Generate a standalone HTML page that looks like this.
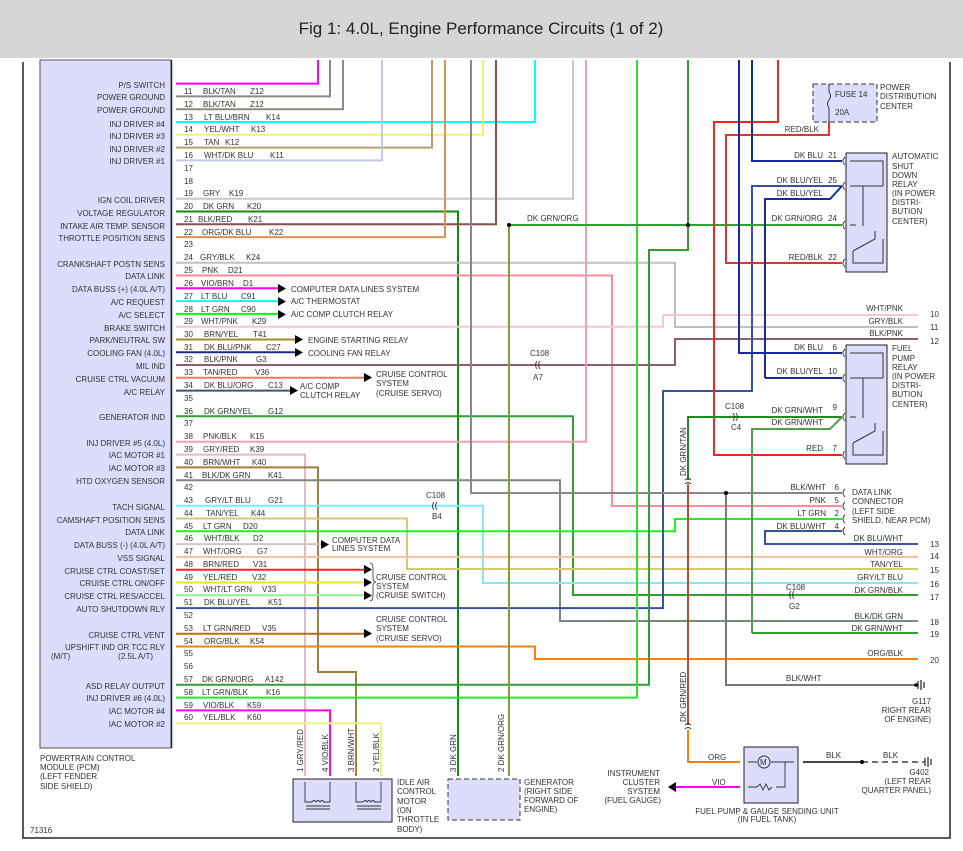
<!DOCTYPE html>
<html><head><meta charset="utf-8"><style>
html,body{margin:0;padding:0;background:#fff}
svg{display:block}
text{font-family:"Liberation Sans",sans-serif;font-size:8px;fill:#333}
.r{text-anchor:end}
.w{fill:none;stroke-width:2}
</style></head><body>
<svg width="963" height="851" viewBox="0 0 963 851" xmlns="http://www.w3.org/2000/svg">
<defs>
<pattern id="pins" x="0" y="77.2" width="12" height="12.79" patternUnits="userSpaceOnUse">
<path d="M2 3 Q6 6.4 2 9.8" fill="none" stroke="#444" stroke-width="0.8"/>
</pattern>
</defs>
<rect x="0" y="0" width="963" height="58" fill="#d6d6d6"/>
<text x="481" y="34" style="font-size:17px;fill:#222" text-anchor="middle">Fig 1: 4.0L, Engine Performance Circuits (1 of 2)</text>
<!-- frame -->
<path d="M23 62V838H950V62" fill="none" stroke="#222" stroke-width="1.5"/>
<!-- PCM -->
<rect x="40" y="60" width="131" height="688" fill="#dcdcfc" stroke="#555" stroke-width="1"/>
<line x1="171.5" y1="60" x2="171.5" y2="748" stroke="#222" stroke-width="1.5"/>
<rect x="173" y="77" width="6" height="652" fill="url(#pins)"/>

<!-- wires from PCM -->
<g class="w">
<path d="M176 83.6H318V60" stroke="#ff00ff"/>
<path d="M176 96.4H330V60" stroke="#8a8a80"/>
<path d="M176 109.2H343V60" stroke="#8a8a80"/>
<path d="M176 122H535V60" stroke="#00ffff"/>
<path d="M176 134.8H483V60" stroke="#f4f070"/>
<path d="M176 147.6H432V60" stroke="#b0a070"/>
<path d="M176 160.4H382V60" stroke="#c0c8e8"/>
<path d="M176 198.7H573V60" stroke="#c8c8c8"/>
<path d="M176 211.5H458V776" stroke="#138a13"/>
<path d="M176 224.3H496V60" stroke="#8a5050"/>
<path d="M176 237.1H445V60" stroke="#e09050"/>
<path d="M176 262.7H675V327H918" stroke="#c0c0c0"/>
<path d="M176 275.5H612V506H842" stroke="#ff8aa0"/>
<path d="M176 288.3H280" stroke="#ff00ff"/>
<path d="M176 301.1H280" stroke="#00ffff"/>
<path d="M176 313.9H280" stroke="#00ff00"/>
<path d="M176 326.7H663V315H918" stroke="#f4c8d0"/>
<path d="M176 339.5H297" stroke="#a09020"/>
<path d="M176 352.3H297" stroke="#1a2a8a"/>
<path d="M176 365H675V339H918" stroke="#8a6070"/>
<path d="M176 377.8H366" stroke="#e08060"/>
<path d="M176 390.6H292" stroke="#445080"/>
<path d="M176 416.2H573V595H918" stroke="#30a030"/>
<path d="M176 441.8H586V60" stroke="#f0a0b0"/>
<path d="M176 454.6H305V776" stroke="#e8b8c0"/>
<path d="M176 467.4H318V672H356V776" stroke="#a08040"/>
<path d="M176 480.2H560V621H918" stroke="#7a8a7a"/>
<path d="M176 505.7H483V583H918" stroke="#80ecf0"/>
<path d="M176 518.5H407V569H918" stroke="#d8c870"/>
<path d="M176 531.3H675V519H842" stroke="#20f020"/>
<path d="M176 544.1H323" stroke="#c8c8c8"/>
<path d="M176 556.9H918" stroke="#f0c0a0"/>
<path d="M176 569.7H366" stroke="#ff2020"/>
<path d="M176 582.5H366" stroke="#f0e020"/>
<path d="M176 595.3H366" stroke="#90f090"/>
<path d="M176 608.1H663V391H752V186H842" stroke="#3a50a0"/>
<path d="M176 633.7H366" stroke="#b07020"/>
<path d="M176 646.5H535V659H918" stroke="#ff8000"/>
<path d="M176 684.8H649V250H688V60" stroke="#30a030"/>
<path d="M688 225V250" stroke="#30a030"/>
<path d="M176 697.6H637V60" stroke="#30e030"/>
<path d="M176 710.4H330V776" stroke="#ff00ff"/>
<path d="M176 723.2H381V776" stroke="#f4f080"/>
<path d="M471 60V493H842" stroke="#888"/>
<path d="M726 493V685H915" stroke="#777"/>
<path d="M509 225V776" stroke="#80a030"/>
<path d="M509 225H842" stroke="#30a030"/>
<path d="M778 60V122H714V455H842" stroke="#ff2020"/>
<path d="M829 120V135H726V263H842" stroke="#e83030"/>
<path d="M752 60V161H842" stroke="#1a2a9a"/>
<path d="M739 60V353H842" stroke="#1a2a9a"/>
<path d="M765 378V199H830L842 186" stroke="#1a2a9a"/>
<path d="M765 378H842" stroke="#1a2a9a"/>
<path d="M688 480V417H842" stroke="#208a20"/>
<path d="M752 633V429H830L842 417" stroke="#50a050"/>
<path d="M752 633H918" stroke="#30a030"/>
<path d="M842 531H765V544H918" stroke="#3a50a0"/>
<path d="M688 484V725" stroke="#b05030"/>
<path d="M688 730V762H740" stroke="#ff8000"/>
<path d="M740 787H672" stroke="#ff00ff"/>
<path d="M803 762H862" stroke="#444"/>
</g>
<path d="M862 762H925" stroke="#444" stroke-width="1.5" stroke-dasharray="6,4"/>
<!-- junction dots -->
<g fill="#000"><circle cx="509" cy="225" r="2"/><circle cx="688" cy="225" r="2"/><circle cx="726" cy="493" r="2"/><circle cx="862" cy="762" r="2"/></g>
<!-- arrowheads -->
<g fill="#000">
<path d="M278 284v9l8-4.5z"/><path d="M278 297v9l8-4.5z"/><path d="M278 310v9l8-4.5z"/>
<path d="M295 335v9l8-4.5z"/><path d="M295 348v9l8-4.5z"/>
<path d="M364 373v9l8-4.5z"/><path d="M290 386v9l8-4.5z"/>
<path d="M321 540v9l8-4.5z"/>
<path d="M364 565v9l8-4.5z"/><path d="M364 578v9l8-4.5z"/><path d="M364 591v9l8-4.5z"/>
<path d="M364 629v9l8-4.5z"/>
<path d="M668 787l8-5v10z"/>
</g>
<path d="M370 563q3 0 3 6v8q0 5 3 5q-3 0-3 5v8q0 6-3 6" fill="none" stroke="#333" stroke-width="0.8"/>
<!-- C108 connectors -->
<g fill="none" stroke="#333" stroke-width="0.9">
<path d="M537 361q-3 4 0 8M540 361q-3 4 0 8"/>
<path d="M434 502q-3 4 0 8M437 502q-3 4 0 8"/>
<path d="M733 413q3 4 0 8M736 413q3 4 0 8"/>
<path d="M791 591q-3 4 0 8M794 591q-3 4 0 8"/>
<path d="M685 480q3-3 6 0M685 484q3-3 6 0M685 725q3-3 6 0M685 729q3-3 6 0"/>
</g>
<text x="530" y="356">C108</text><text x="533" y="380">A7</text>
<text x="426" y="498">C108</text><text x="432" y="519">B4</text>
<text x="725" y="409">C108</text><text x="731" y="430">C4</text>
<text x="786" y="590">C108</text><text x="789" y="609">G2</text>

<!-- fuse / PDC -->
<rect x="813" y="84" width="64" height="38" fill="#dcdcfc" stroke="#333" stroke-dasharray="5,3"/>
<path d="M829 84V92M829 92q3 4 0 8q-3 4 0 8M829 108V122" fill="none" stroke="#333"/>
<text x="835" y="97">FUSE 14</text><text x="835" y="115">20A</text>
<text x="880" y="90">POWER</text><text x="880" y="99">DISTRIBUTION</text><text x="880" y="109">CENTER</text>
<!-- relays -->
<rect x="846" y="153" width="41" height="119" fill="#dcdcfc" stroke="#222"/>
<path d="M850 161H883V186M850 186H883M863 186v40M850 225h6M853 251l22-12v-8M853 251V263H883V239" fill="none" stroke="#333" stroke-dasharray="0"/>
<rect x="846" y="345" width="41" height="119" fill="#dcdcfc" stroke="#222"/>
<path d="M850 353H883V378M850 378H883M863 378v40M850 417h6M853 443l22-12v-8M853 443V455H883V431" fill="none" stroke="#333"/>
<text x="892" y="159">AUTOMATIC</text><text x="892" y="169">SHUT</text><text x="892" y="178">DOWN</text><text x="892" y="187">RELAY</text><text x="892" y="196">(IN POWER</text><text x="892" y="205">DISTRI-</text><text x="892" y="214">BUTION</text><text x="892" y="224">CENTER)</text>
<text x="892" y="351">FUEL</text><text x="892" y="361">PUMP</text><text x="892" y="370">RELAY</text><text x="892" y="379">(IN POWER</text><text x="892" y="388">DISTRI-</text><text x="892" y="397">BUTION</text><text x="892" y="407">CENTER)</text>
<g class="r">
<text x="823" y="158">DK BLU</text><text x="837" y="158">21</text>
<text x="823" y="183">DK BLU/YEL</text><text x="837" y="183">25</text>
<text x="823" y="196">DK BLU/YEL</text>
<text x="823" y="221">DK GRN/ORG</text><text x="837" y="221">24</text>
<text x="823" y="260">RED/BLK</text><text x="837" y="260">22</text>
<text x="819" y="132">RED/BLK</text>
<text x="823" y="350">DK BLU</text><text x="837" y="350">6</text>
<text x="823" y="374">DK BLU/YEL</text><text x="837" y="374">10</text>
<text x="823" y="413">DK GRN/WHT</text><text x="837" y="410">9</text>
<text x="823" y="425">DK GRN/WHT</text>
<text x="823" y="451">RED</text><text x="837" y="451">7</text>
<text x="826" y="490">BLK/WHT</text><text x="839" y="490">6</text>
<text x="826" y="503">PNK</text><text x="839" y="503">5</text>
<text x="826" y="516">LT GRN</text><text x="839" y="516">2</text>
<text x="826" y="529">DK BLU/WHT</text><text x="839" y="529">4</text>
<text x="903" y="311">WHT/PNK</text><text x="903" y="324">GRY/BLK</text><text x="903" y="336">BLK/PNK</text>
<text x="903" y="541">DK BLU/WHT</text><text x="903" y="555">WHT/ORG</text><text x="903" y="567">TAN/YEL</text><text x="903" y="580">GRY/LT BLU</text><text x="903" y="593">DK GRN/BLK</text>
<text x="903" y="619">BLK/DK GRN</text><text x="903" y="631">DK GRN/WHT</text><text x="903" y="656">ORG/BLK</text>
</g>
<g><text x="930" y="317">10</text><text x="930" y="330">11</text><text x="930" y="344">12</text><text x="930" y="547">13</text><text x="930" y="559">14</text><text x="930" y="573">15</text><text x="930" y="587">16</text><text x="930" y="600">17</text><text x="930" y="625">18</text><text x="930" y="637">19</text><text x="930" y="663">20</text></g>
<!-- pin connectors on relay/dlc -->
<g fill="none" stroke="#333" stroke-width="0.9">
<path d="M845 157q-4 4 0 8M845 182q-4 4 0 8M845 221q-4 4 0 8M845 259q-4 4 0 8M845 349q-4 4 0 8M845 374q-4 4 0 8M845 413q-4 4 0 8M845 451q-4 4 0 8M845 489q-4 4 0 8M845 502q-4 4 0 8M845 515q-4 4 0 8M845 527q-4 4 0 8"/>
</g>
<text x="852" y="495">DATA LINK</text><text x="852" y="504">CONNECTOR</text><text x="852" y="514">(LEFT SIDE</text><text x="852" y="523">SHIELD, NEAR PCM)</text>
<!-- grounds -->
<path d="M918 681v8M921 680v10M924 682v6" stroke="#333" stroke-width="1.3"/>
<circle cx="916" cy="685" r="1.8"/>
<text x="786" y="681">BLK/WHT</text>
<text x="931" y="704" class="r">G117</text><text x="931" y="713" class="r">RIGHT REAR</text><text x="931" y="722" class="r">OF ENGINE)</text>
<path d="M925 758v8M928 757v10M931 759v6" stroke="#333" stroke-width="1.3"/>
<text x="826" y="758">BLK</text><text x="883" y="758">BLK</text>
<text x="929" y="775" class="r">G402</text><text x="931" y="784" class="r">(LEFT REAR</text><text x="931" y="793" class="r">QUARTER PANEL)</text>
<!-- fuel pump -->
<rect x="744" y="747" width="54" height="56" fill="#dcdcfc" stroke="#222"/>
<circle cx="764" cy="762" r="6" fill="none" stroke="#333"/><text x="760" y="765">M</text>
<path d="M748 762h9M771 762h23M785 762v25h-9M748 787h9l3-3 3 6 3-6 3 6 3-3" fill="none" stroke="#333" stroke-width="0.9"/>
<text x="708" y="760">ORG</text><text x="712" y="785">VIO</text>
<text x="767" y="814" text-anchor="middle">FUEL PUMP &amp; GAUGE SENDING UNIT</text><text x="767" y="822" text-anchor="middle">(IN FUEL TANK)</text>
<text x="660" y="776" class="r">INSTRUMENT</text><text x="660" y="785" class="r">CLUSTER</text><text x="660" y="794" class="r">SYSTEM</text><text x="661" y="803" class="r">(FUEL GAUGE)</text>
<!-- IAC -->
<rect x="293" y="779" width="99" height="43" fill="#dcdcfc" stroke="#222"/>
<path d="M305 782v20h7M330 782v20h-7M312 802q2-3 4 0q2-3 4 0q2-3 4 0M356 782v20h7M381 782v20h-7M363 802q2-3 4 0q2-3 4 0q2-3 4 0M306 806h24M306 809h24M357 806h24M357 809h24" fill="none" stroke="#333" stroke-width="0.9"/>
<text x="397" y="785">IDLE AIR</text><text x="397" y="794">CONTROL</text><text x="397" y="804">MOTOR</text><text x="397" y="813">(ON</text><text x="397" y="822">THROTTLE</text><text x="397" y="832">BODY)</text>
<rect x="448" y="779" width="72" height="41" fill="#dcdcfc" stroke="#333" stroke-dasharray="5,3"/>
<text x="524" y="785">GENERATOR</text><text x="524" y="794">(RIGHT SIDE</text><text x="524" y="803">FORWARD OF</text><text x="524" y="812">ENGINE)</text>
<g transform="rotate(-90)">
<text x="-772" y="303">1 GRY/RED</text><text x="-772" y="328">4 VIO/BLK</text><text x="-772" y="354">3 BRN/WHT</text><text x="-772" y="379">2 YEL/BLK</text>
<text x="-772" y="456">3 DK GRN</text><text x="-772" y="504">2 DK GRN/ORG</text>
<text x="-476" y="686">DK GRN/TAN</text><text x="-722" y="686">DK GRN/RED</text>
</g>
<!-- PCM labels -->
<text x="40" y="761">POWERTRAIN CONTROL</text><text x="40" y="770">MODULE (PCM)</text><text x="40" y="779">(LEFT FENDER</text><text x="40" y="789">SIDE SHIELD)</text>
<text x="30" y="833">71316</text>
<g class="r">
<text x="165" y="88">P/S SWITCH</text><text x="165" y="100">POWER GROUND</text><text x="165" y="113">POWER GROUND</text>
<text x="165" y="127">INJ DRIVER #4</text><text x="165" y="139">INJ DRIVER #3</text><text x="165" y="152">INJ DRIVER #2</text><text x="165" y="164">INJ DRIVER #1</text>
<text x="165" y="203">IGN COIL DRIVER</text><text x="165" y="216">VOLTAGE REGULATOR</text><text x="165" y="229">INTAKE AIR TEMP. SENSOR</text><text x="165" y="241">THROTTLE POSITION SENS</text>
<text x="165" y="267">CRANKSHAFT POSTN SENS</text><text x="165" y="279">DATA LINK</text><text x="165" y="292">DATA BUSS (+) (4.0L A/T)</text><text x="165" y="305">A/C REQUEST</text><text x="165" y="318">A/C SELECT</text>
<text x="165" y="331">BRAKE SWITCH</text><text x="165" y="343">PARK/NEUTRAL SW</text><text x="165" y="356">COOLING FAN (4.0L)</text><text x="165" y="369">MIL IND</text><text x="165" y="382">CRUISE CTRL VACUUM</text><text x="165" y="395">A/C RELAY</text>
<text x="165" y="420">GENERATOR IND</text><text x="165" y="446">INJ DRIVER #5 (4.0L)</text><text x="165" y="458">IAC MOTOR #1</text><text x="165" y="471">IAC MOTOR #3</text><text x="165" y="484">HTD OXYGEN SENSOR</text>
<text x="165" y="510">TACH SIGNAL</text><text x="165" y="523">CAMSHAFT POSITION SENS</text><text x="165" y="535">DATA LINK</text><text x="165" y="548">DATA BUSS (-) (4.0L A/T)</text><text x="165" y="561">VSS SIGNAL</text>
<text x="165" y="574">CRUISE CTRL COAST/SET</text><text x="165" y="586">CRUISE CTRL ON/OFF</text><text x="165" y="599">CRUISE CTRL RES/ACCEL</text><text x="165" y="612">AUTO SHUTDOWN RLY</text>
<text x="165" y="638">CRUISE CTRL VENT</text><text x="165" y="650">UPSHIFT IND OR TCC RLY</text><text x="153" y="659">(2.5L A/T)</text>
<text x="165" y="689">ASD RELAY OUTPUT</text><text x="165" y="701">INJ DRIVER #6 (4.0L)</text><text x="165" y="714">IAC MOTOR #4</text><text x="165" y="727">IAC MOTOR #2</text>
</g>
<text x="51" y="659">(M/T)</text>
<!-- destination labels -->
<text x="291" y="292">COMPUTER DATA LINES SYSTEM</text><text x="291" y="304">A/C THERMOSTAT</text><text x="291" y="317">A/C COMP CLUTCH RELAY</text>
<text x="308" y="343">ENGINE STARTING RELAY</text><text x="308" y="356">COOLING FAN RELAY</text>
<text x="300" y="389">A/C COMP</text><text x="300" y="398">CLUTCH RELAY</text>
<text x="376" y="377">CRUISE CONTROL</text><text x="376" y="386">SYSTEM</text><text x="376" y="396">(CRUISE SERVO)</text>
<text x="332" y="543">COMPUTER DATA</text><text x="332" y="551">LINES SYSTEM</text>
<text x="376" y="580">CRUISE CONTROL</text><text x="376" y="589">SYSTEM</text><text x="376" y="598">(CRUISE SWITCH)</text>
<text x="376" y="622">CRUISE CONTROL</text><text x="376" y="631">SYSTEM</text><text x="376" y="641">(CRUISE SERVO)</text>
<text x="527" y="221">DK GRN/ORG</text>
<!-- pin row labels -->
<g>
<text x="184" y="94">11</text><text x="203" y="94">BLK/TAN</text><text x="250" y="94">Z12</text>
<text x="184" y="107">12</text><text x="203" y="107">BLK/TAN</text><text x="250" y="107">Z12</text>
<text x="184" y="120">13</text><text x="204" y="120">LT BLU/BRN</text><text x="266" y="120">K14</text>
<text x="184" y="132">14</text><text x="204" y="132">YEL/WHT</text><text x="251" y="132">K13</text>
<text x="184" y="145">15</text><text x="204" y="145">TAN</text><text x="225" y="145">K12</text>
<text x="184" y="158">16</text><text x="204" y="158">WHT/DK BLU</text><text x="270" y="158">K11</text>
<text x="184" y="171">17</text><text x="184" y="184">18</text>
<text x="184" y="196">19</text><text x="203" y="196">GRY</text><text x="229" y="196">K19</text>
<text x="184" y="209">20</text><text x="203" y="209">DK GRN</text><text x="247" y="209">K20</text>
<text x="184" y="222">21</text><text x="198" y="222">BLK/RED</text><text x="248" y="222">K21</text>
<text x="184" y="235">22</text><text x="202" y="235">ORG/DK BLU</text><text x="269" y="235">K22</text>
<text x="184" y="247">23</text>
<text x="184" y="260">24</text><text x="200" y="260">GRY/BLK</text><text x="246" y="260">K24</text>
<text x="184" y="273">25</text><text x="202" y="273">PNK</text><text x="228" y="273">D21</text>
<text x="184" y="286">26</text><text x="201" y="286">VIO/BRN</text><text x="243" y="286">D1</text>
<text x="184" y="299">27</text><text x="201" y="299">LT BLU</text><text x="241" y="299">C91</text>
<text x="184" y="312">28</text><text x="201" y="312">LT GRN</text><text x="241" y="312">C90</text>
<text x="184" y="324">29</text><text x="201" y="324">WHT/PNK</text><text x="252" y="324">K29</text>
<text x="184" y="337">30</text><text x="204" y="337">BRN/YEL</text><text x="253" y="337">T41</text>
<text x="184" y="350">31</text><text x="204" y="350">DK BLU/PNK</text><text x="266" y="350">C27</text>
<text x="184" y="362">32</text><text x="204" y="362">BLK/PNK</text><text x="256" y="362">G3</text>
<text x="184" y="375">33</text><text x="203" y="375">TAN/RED</text><text x="255" y="375">V36</text>
<text x="184" y="388">34</text><text x="204" y="388">DK BLU/ORG</text><text x="268" y="388">C13</text>
<text x="184" y="401">35</text>
<text x="184" y="414">36</text><text x="204" y="414">DK GRN/YEL</text><text x="268" y="414">G12</text>
<text x="184" y="426">37</text>
<text x="184" y="439">38</text><text x="203" y="439">PNK/BLK</text><text x="250" y="439">K15</text>
<text x="184" y="452">39</text><text x="203" y="452">GRY/RED</text><text x="250" y="452">K39</text>
<text x="184" y="465">40</text><text x="203" y="465">BRN/WHT</text><text x="252" y="465">K40</text>
<text x="184" y="478">41</text><text x="202" y="478">BLK/DK GRN</text><text x="268" y="478">K41</text>
<text x="184" y="490">42</text>
<text x="184" y="503">43</text><text x="205" y="503">GRY/LT BLU</text><text x="268" y="503">G21</text>
<text x="184" y="516">44</text><text x="206" y="516">TAN/YEL</text><text x="251" y="516">K44</text>
<text x="184" y="529">45</text><text x="203" y="529">LT GRN</text><text x="243" y="529">D20</text>
<text x="184" y="541">46</text><text x="204" y="541">WHT/BLK</text><text x="253" y="541">D2</text>
<text x="184" y="554">47</text><text x="203" y="554">WHT/ORG</text><text x="257" y="554">G7</text>
<text x="184" y="567">48</text><text x="203" y="567">BRN/RED</text><text x="253" y="567">V31</text>
<text x="184" y="580">49</text><text x="203" y="580">YEL/RED</text><text x="252" y="580">V32</text>
<text x="184" y="592">50</text><text x="203" y="592">WHT/LT GRN</text><text x="262" y="592">V33</text>
<text x="184" y="605">51</text><text x="204" y="605">DK BLU/YEL</text><text x="268" y="605">K51</text>
<text x="184" y="618">52</text>
<text x="184" y="631">53</text><text x="203" y="631">LT GRN/RED</text><text x="262" y="631">V35</text>
<text x="184" y="644">54</text><text x="204" y="644">ORG/BLK</text><text x="250" y="644">K54</text>
<text x="184" y="656">55</text><text x="184" y="669">56</text>
<text x="184" y="682">57</text><text x="202" y="682">DK GRN/ORG</text><text x="265" y="682">A142</text>
<text x="184" y="695">58</text><text x="202" y="695">LT GRN/BLK</text><text x="266" y="695">K16</text>
<text x="184" y="708">59</text><text x="203" y="708">VIO/BLK</text><text x="247" y="708">K59</text>
<text x="184" y="720">60</text><text x="203" y="720">YEL/BLK</text><text x="247" y="720">K60</text>
</g>
</svg>
</body></html>
